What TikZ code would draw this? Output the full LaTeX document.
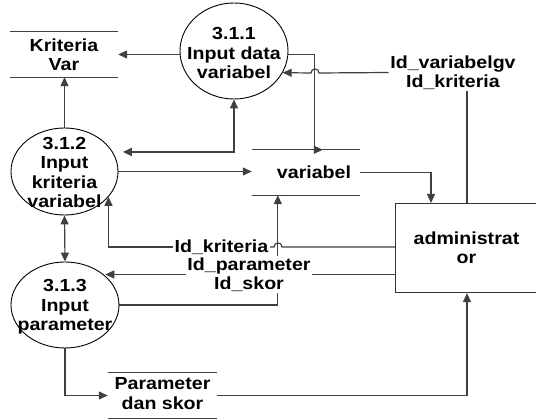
\documentclass[tikz,border=0pt]{standalone}
\usepackage{fontspec}
\setmainfont{Liberation Sans}[FakeStretch=1.12]
\usetikzlibrary{arrows.meta,calc,backgrounds,shapes.geometric}
\begin{document}
\begin{tikzpicture}[x=1pt,y=-1pt,
  txt/.style={font=\fontsize{17.5}{19.5}\selectfont\bfseries, align=center, inner sep=1.5pt},
  proc/.style={ellipse, draw=black, line width=0.9pt, fill=white, inner sep=0pt},
  store/.style={txt, minimum height=45pt,
    append after command={
      (\tikzlastnode.north west) edge[storeline] (\tikzlastnode.north east)
      (\tikzlastnode.south west) edge[storeline] (\tikzlastnode.south east)}},
  storeline/.style={draw=black!75, line width=1.1pt},
  entity/.style={draw=black!80, line width=1.1pt, fill=white, inner sep=0pt},
  conn/.style={draw=black!75, line width=1.2pt},
  flow/.style={conn, -{Triangle[length=9pt,width=8pt]}},
  both/.style={conn, {Triangle[length=9pt,width=8pt]}-{Triangle[length=9pt,width=8pt]}},
  lbl/.style={txt, fill=white}
]
\useasboundingbox (0,0) rectangle (536,419);

% processes
\node[proc, minimum width=108pt, minimum height=96pt] (c311) at (234,51) {};
\node[txt] (t311) at (234,53) {3.1.1\\Input data\\variabel};
\node[proc, minimum width=107pt, minimum height=87pt] (c312) at (64.5,171.5) {};
\node[txt] (t312) at (64.5,172.5) {3.1.2\\Input\\kriteria\\variabel};
\node[proc, minimum width=108pt, minimum height=86pt] (c313) at (65,305) {};
\node[txt] (t313) at (65,307) {3.1.3\\Input\\parameter};

% data stores
\node[store, minimum width=108pt] (kv) at (64,54.5) {Kriteria\\Var};
\node[store, minimum width=108pt] (var) at (306,172.5) {\hspace{16pt}variabel};
\node[store, minimum width=109pt] (pds) at (162.5,395.5)
  {\raisebox{3pt}{\begin{tabular}{@{}c@{}}Parameter\\dan skor\end{tabular}}};

% external entity
\node[entity, minimum width=150pt, minimum height=89pt, anchor=north west] (adm) at (395,203) {};
\node[txt] (tadm) at (466.5,247.5) {administrat\\or};

% flow labels
\node[lbl] (lblA) at (453,72.5) {Id\_variabelgv\\Id\_kriteria};
\node[lbl] (lblB) at (221.5,247) {Id\_kriteria};
\node[lbl] (lblC) at (249,274.5) {Id\_parameter\\Id\_skor};

% attachment points on the stores and the entity
\coordinate (vtop) at ($(var.north west)+(71,0)$);
\coordinate (vbot) at ($(var.south west)+(26,0)$);
\coordinate (admtop) at ($(adm.north west)+(72,0)$);
\coordinate (admin) at ($(adm.north west)+(36,0)$);
\coordinate (admbot) at ($(adm.south west)+(72,0)$);

\begin{pgfonlayer}{background}
\fill[white] (0,0) rectangle (536,419);

% 3.1.1 -> Kriteria Var
\draw[flow] (kv.east -| c311.west) -- (kv.east);
% 3.1.2 -> Kriteria Var
\draw[flow] (c312.north) -- (c312.north |- kv.south);
% 3.1.1 -> variabel
\draw[flow] (c311.-4) -| ($(vtop)+(-8,0)$) -- (vtop);
% administrator -> 3.1.1
\draw[conn] (admtop) -- (admtop |- lblA.south);
\draw[flow] (lblA.west) -- (319,73) .. controls (319,67.7) and (311,67.7) .. (311,73) -- (c311.-24.6);
% variabel -> administrator
\draw[flow] (var.east) -| (admin);
% 3.1.2 -> variabel
\draw[flow] (c312.east) -- (c312.east -| var.west);
% 3.1.1 <-> 3.1.2
\draw[both, line width=1.7pt] ([xshift=10pt]c312.22) -| (c311.south);
% 3.1.2 <-> 3.1.3
\draw[both] (c312.south) -- (c313.north);
% administrator -> 3.1.2
\draw[conn] (lblB.east -| adm.west) -- (282,247) .. controls (282,241.7) and (274,241.7) .. (274,247) -- (lblB.east);
\draw[flow] (lblB.west) -| (c312.-30.2);
% 3.1.3 -> variabel
\draw[flow] (c313.east) -| (vbot);
% administrator -> 3.1.3
\draw[conn] (lblC.east -| adm.west) -- (lblC.east);
\draw[flow] (lblC.west) -- (lblC.west -| c313.36.9);
% 3.1.3 -> Parameter dan skor
\draw[flow] (c313.south) |- (pds.west);
% Parameter dan skor -> administrator
\draw[flow] (pds.east) -| (admbot);
\end{pgfonlayer}
\end{tikzpicture}
\end{document}
